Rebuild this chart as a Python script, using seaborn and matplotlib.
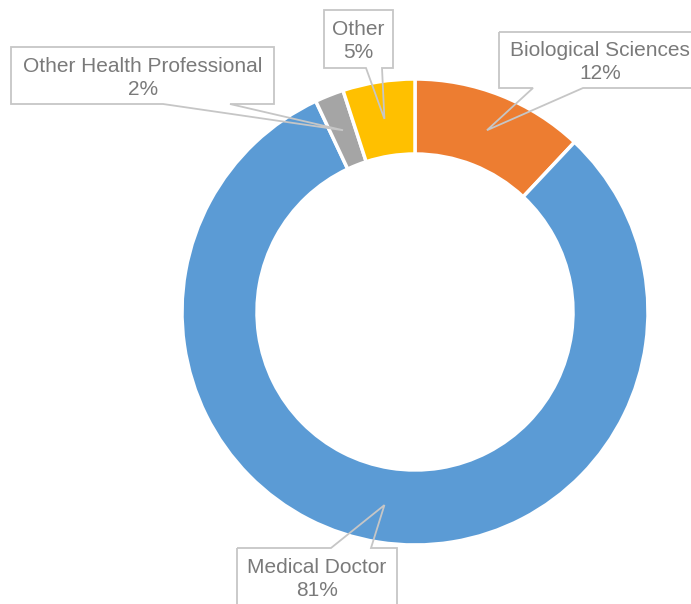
import matplotlib
matplotlib.use("Agg")
import matplotlib.pyplot as plt
from matplotlib.patches import Polygon, Rectangle
import seaborn as sns
import numpy as np

# data
categories = ["Biological Sciences", "Medical Doctor", "Other Health Professional", "Other"]
shares = [12, 81, 2, 5]
colors = ["#ED7D31", "#5B9BD5", "#A5A5A5", "#FFC000"]

# callout boxes in pixel coords (x0, y0, x1, y1), side of pointer, pointer base, text centre
callouts = {
    "Biological Sciences": dict(box=(499, 32, 710, 88), side="bottom", base=(533, 583), txt=(600, 62)),
    "Medical Doctor": dict(box=(237, 548, 397, 615), side="top", base=(331, 371), txt=(317, 579)),
    "Other Health Professional": dict(box=(11, 47, 274, 104), side="bottom", base=(163, 230), txt=(143, 78)),
    "Other": dict(box=(324, 10, 393, 68), side="bottom", base=(366, 382), txt=(358, 41)),
}

W, H = 691, 604
cx, cy = 415, 312
r_out, ring = 233, 75

sns.set_theme(style="white")
plt.rcParams['font.family'] = ['Liberation Sans', 'DejaVu Sans']

fig = plt.figure(figsize=(W / 100, H / 100), dpi=100)
ax = fig.add_axes([0, 0, 1, 1])

# y axis runs downward, so counterclock=True looks clockwise and -90 is the top
wedges, _ = ax.pie(
    shares,
    colors=colors,
    startangle=-90,
    counterclock=True,
    center=(cx, cy),
    radius=r_out,
    wedgeprops=dict(width=ring, edgecolor="white", linewidth=2.5),
)

line_col = "#C6C6C6"
text_col = "#7A7A7A"
r_mid = r_out - ring / 2

for w, cat, val in zip(wedges, categories, shares):
    c = callouts[cat]
    x0, y0, x1, y1 = c["box"]
    b0, b1 = c["base"]
    ang = np.deg2rad((w.theta1 + w.theta2) / 2)
    tip = (cx + r_mid * np.cos(ang), cy + r_mid * np.sin(ang))
    if c["side"] == "bottom":
        pts = [(x0, y0), (x1, y0), (x1, y1), (b1, y1), tip, (b0, y1), (x0, y1)]
    else:
        pts = [(x0, y0), (b0, y0), tip, (b1, y0), (x1, y0), (x1, y1), (x0, y1)]
    ax.add_patch(Rectangle((x0, y0), x1 - x0, y1 - y0, facecolor="white", edgecolor="none", zorder=3))
    ax.add_patch(Polygon(pts, closed=True, fill=False, edgecolor=line_col, linewidth=1.3, zorder=4))
    ax.text(c["txt"][0], c["txt"][1], f"{cat}\n{val}%", ha="center", va="center",
            fontsize=15, color=text_col, linespacing=1.25, zorder=5)

ax.set_aspect("auto")
ax.set_xlim(0, W)
ax.set_ylim(H, 0)
ax.axis("off")

fig.savefig("out.png", dpi=100, facecolor="white")
